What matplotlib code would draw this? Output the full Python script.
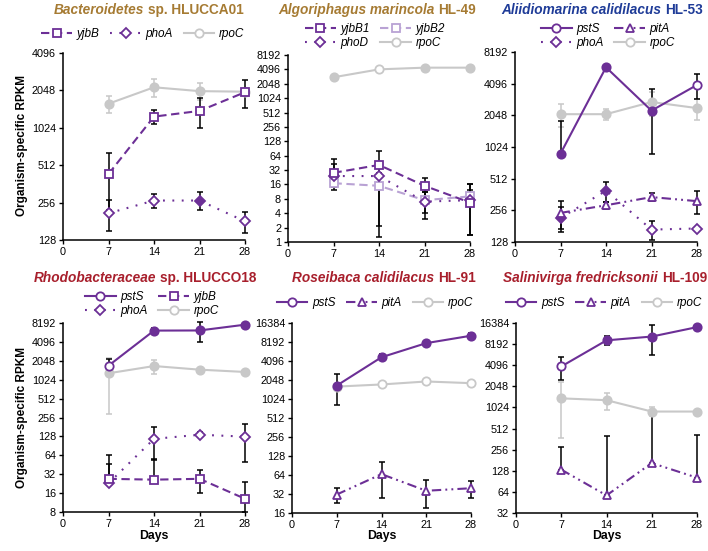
import numpy as np
import matplotlib.pyplot as plt
from matplotlib.lines import Line2D
from matplotlib.ticker import FixedLocator, FixedFormatter, NullLocator
from matplotlib.offsetbox import TextArea, HPacker, AnchoredOffsetbox

plt.rcParams['font.family'] = ['Liberation Sans', 'DejaVu Sans']

# 공통 x값 (days)
days = [7, 14, 21, 28]
x_ticks = [0, 7, 14, 21, 28]

# Panel 1 - Bacteroidetes sp. HLUCCA01
p1_yjbB = [435, 1260, 1400, 1980]
p1_yjbB_err = [210, 170, 380, 500]
p1_yjbB_fill = [0, 0, 0, 0]
p1_phoA = [210, 266, 266, 181]
p1_phoA_err = [58, 36, 44, 35]
p1_phoA_fill = [0, 0, 1, 0]
p1_rpoC = [1600, 2170, 2020, 2000]
p1_rpoC_err = [250, 370, 310, 100]
p1_rpoC_fill = [1, 1, 1, 1]

# Panel 2 - Algoriphagus marincola HL-49
p2_yjbB1 = [28, 41, 15, 6.7]
p2_yjbB1_err = [14, 41, 7, 5.3]
p2_yjbB1_fill = [0, 0, 0, 0]
p2_yjbB2 = [17, 15, 7.5, 9]
p2_yjbB2_err = [5, 12.8, 3.5, 7.6]
p2_yjbB2_fill = [0, 0, 0, 0]
p2_phoD = [24, 24, 7, 7.5]
p2_phoD_err = [30, 22.7, 4, 8.5]
p2_phoD_fill = [0, 0, 0, 0]
p2_rpoC = [2800, 4100, 4450, 4450]
p2_rpoC_err = [0, 0, 0, 0]
p2_rpoC_fill = [1, 0, 1, 1]

# Panel 3 - Aliidiomarina calidilacus HL-53
p3_pstS = [885, 5860, 2270, 3980]
p3_pstS_err = [915, 300, 1400, 1050]
p3_pstS_fill = [1, 1, 1, 0]
p3_pitA = [242, 286, 342, 313]
p3_pitA_err = [70, 20, 30, 75]
p3_pitA_fill = [0, 0, 0, 0]
p3_phoA = [217, 393, 168, 172]
p3_phoA_err = [57, 87, 33, 0]
p3_phoA_fill = [1, 1, 0, 0]
p3_rpoC = [2100, 2100, 2740, 2400]
p3_rpoC_err = [500, 250, 700, 550]
p3_rpoC_fill = [1, 1, 1, 1]

# Panel 4 - Rhodobacteraceae sp. HLUCCO18
p4_pstS = [1713, 6200, 6230, 7700]
p4_pstS_err = [480, 700, 2200, 300]
p4_pstS_fill = [0, 1, 1, 1]
p4_yjbB = [27, 26.2, 27, 13]
p4_yjbB_err = [37, 30, 11, 11]
p4_yjbB_fill = [0, 0, 0, 0]
p4_phoA = [22.9, 117, 136, 127]
p4_phoA_err = [24, 63, 12, 77]
p4_phoA_fill = [0, 0, 0, 0]
p4_rpoC = [1295, 1690, 1480, 1360]
p4_rpoC_err = [1000, 450, 80, 50]
p4_rpoC_fill = [1, 1, 1, 1]

# Panel 5 - Roseibaca calidilacus HL-91
p5_pstS = [1670, 4700, 7860, 10300]
p5_pstS_err = [850, 500, 300, 1000]
p5_pstS_fill = [1, 1, 1, 1]
p5_pitA = [31.4, 66, 36, 39.5]
p5_pitA_err = [8, 38, 17, 12]
p5_pitA_fill = [0, 0, 0, 0]
p5_rpoC = [1610, 1740, 1940, 1825]
p5_rpoC_err = [0, 0, 0, 0]
p5_rpoC_fill = [0, 0, 0, 0]

# Panel 6 - Salinivirga fredricksonii HL-109
p6_pstS = [3930, 9270, 10500, 14300]
p6_pstS_err = [1400, 1300, 4700, 0]
p6_pstS_fill = [0, 1, 1, 1]
p6_pitA = [133, 57, 165, 102]
p6_pitA_err = [150, 350, 700, 310]
p6_pitA_fill = [0, 0, 0, 0]
p6_rpoC = [1380, 1300, 895, 895]
p6_rpoC_err = [1000, 350, 130, 60]
p6_rpoC_fill = [1, 1, 1, 1]

# colors
PURPLE = '#6C2F96'
LIGHT = '#B9A2D4'
GRAY = '#C8C8C8'
BROWN = '#A67B33'
BLUE = '#1F3C98'
RED = '#A81F2C'

DASH = (0, (4, 2.2))
DOT = (0, (0.9, 3.6))
DASHDOTDOT = (0, (4.5, 2, 0.9, 2, 0.9, 2))

styles = {
    'pstS': dict(color=PURPLE, ls='-', marker='o', ms=6),
    'yjbB': dict(color=PURPLE, ls=DASH, marker='s', ms=6),
    'yjbB1': dict(color=PURPLE, ls=DASH, marker='s', ms=6),
    'yjbB2': dict(color=LIGHT, ls=DASH, marker='s', ms=6),
    'phoA': dict(color=PURPLE, ls=DOT, marker='D', ms=5),
    'phoD': dict(color=PURPLE, ls=DOT, marker='D', ms=5),
    'pitA': dict(color=PURPLE, ls=DASHDOTDOT, marker='^', ms=6),
    'rpoC': dict(color=GRAY, ls='-', marker='o', ms=6),
}


def draw_series(ax, name, y, err, filled):
    st = styles[name]
    ymin = ax.get_ylim()[0]
    y = np.array(y, float)
    err = np.array(err, float)
    lo = np.where(err < y, err, 0)  # 음수 하한은 그리지 않음
    lo = np.minimum(lo, y - ymin)   # 축 아래로 나가지 않게
    ecol = GRAY if name == 'rpoC' else 'black'
    eb = ax.errorbar(days, y, yerr=[lo, err], fmt='none', ecolor=ecol,
                     elinewidth=1.1, capsize=2.3, capthick=1.1, zorder=2)
    for child in eb.get_children():
        child.set_clip_on(False)
    ax.plot(days, y, color=st['color'], ls=st['ls'], lw=1.5, zorder=3, clip_on=False)
    for xi, yi, f in zip(days, y, filled):
        ax.plot(xi, yi, marker=st['marker'], ms=st['ms'], mec=st['color'],
                mfc=st['color'] if f else 'white', mew=1.3, zorder=4, clip_on=False)


def legend_handle(name):
    st = styles[name]
    return Line2D([], [], color=st['color'], ls=st['ls'], lw=1.5, marker=st['marker'],
                  ms=st['ms'], mec=st['color'], mfc='white', mew=1.3)


def setup_axis(ax, ymin, ymax):
    ax.set_yscale('log', base=2)
    ax.set_ylim(ymin, ymax)
    ax.set_xlim(0, 28)
    ticks = [2 ** k for k in range(int(np.log2(ymin)), int(np.log2(ymax)) + 1)]
    ax.yaxis.set_major_locator(FixedLocator(ticks))
    ax.yaxis.set_major_formatter(FixedFormatter([str(t) for t in ticks]))
    ax.yaxis.set_minor_locator(NullLocator())
    ax.set_xticks(x_ticks)
    ax.spines['top'].set_visible(False)
    ax.spines['right'].set_visible(False)
    ax.spines['left'].set_linewidth(1.1)
    ax.spines['bottom'].set_linewidth(1.1)
    ax.tick_params(axis='both', direction='out', length=3, width=1, labelsize=7.8, pad=2)


def add_title(fig, cx, cy, italic_part, rest, color):
    t1 = TextArea(italic_part, textprops=dict(color=color, fontsize=9.8, fontweight='bold', style='italic'))
    t2 = TextArea(rest, textprops=dict(color=color, fontsize=9.8, fontweight='bold'))
    box = HPacker(children=[t1, t2], align='baseline', pad=0, sep=3)
    anchored = AnchoredOffsetbox(loc='center', child=box, pad=0, frameon=False,
                                 bbox_to_anchor=(cx / 708, 1 - cy / 551),
                                 bbox_transform=fig.transFigure, borderpad=0)
    fig.add_artist(anchored)


def add_legend(ax, fig, rows, cx, cy):
    # rows: 행 단위 리스트 -> matplotlib은 열 우선으로 채우므로 순서 변환
    ncol = len(rows[0])
    names = [rows[r][c] for c in range(ncol) for r in range(len(rows))]
    handles = [legend_handle(n) for n in names]
    ax.legend(handles, names, ncol=ncol, loc='center', frameon=False,
              bbox_to_anchor=(cx / 708, 1 - cy / 551), bbox_transform=fig.transFigure,
              prop=dict(style='italic', size=8.5), handlelength=2.6, handletextpad=0.4,
              columnspacing=0.9, labelspacing=0.2, borderaxespad=0, borderpad=0)


fig = plt.figure(figsize=(7.08, 5.51), dpi=100)


def make_axes(x0, x1, ytop, ybot):
    return fig.add_axes([x0 / 708, 1 - ybot / 551, (x1 - x0) / 708, (ybot - ytop) / 551])


ax1 = make_axes(63, 245, 53, 240)
ax2 = make_axes(288, 470, 55, 242)
ax3 = make_axes(515, 697, 52, 242)
ax4 = make_axes(63, 245, 323, 512)
ax5 = make_axes(292, 471, 323, 513)
ax6 = make_axes(516, 697, 323, 513)

# Panel 1
setup_axis(ax1, 128, 4096)
draw_series(ax1, 'rpoC', p1_rpoC, p1_rpoC_err, p1_rpoC_fill)
draw_series(ax1, 'phoA', p1_phoA, p1_phoA_err, p1_phoA_fill)
draw_series(ax1, 'yjbB', p1_yjbB, p1_yjbB_err, p1_yjbB_fill)
add_legend(ax1, fig, [['yjbB', 'phoA', 'rpoC']], 143, 34)
add_title(fig, 149, 10, 'Bacteroidetes', 'sp. HLUCCA01', BROWN)

# Panel 2
setup_axis(ax2, 1, 8192)
draw_series(ax2, 'rpoC', p2_rpoC, p2_rpoC_err, p2_rpoC_fill)
draw_series(ax2, 'yjbB2', p2_yjbB2, p2_yjbB2_err, p2_yjbB2_fill)
draw_series(ax2, 'phoD', p2_phoD, p2_phoD_err, p2_phoD_fill)
draw_series(ax2, 'yjbB1', p2_yjbB1, p2_yjbB1_err, p2_yjbB1_fill)
add_legend(ax2, fig, [['yjbB1', 'yjbB2'], ['phoD', 'rpoC']], 375, 36)
add_title(fig, 377, 10, 'Algoriphagus marincola', 'HL-49', BROWN)

# Panel 3
setup_axis(ax3, 128, 8192)
draw_series(ax3, 'rpoC', p3_rpoC, p3_rpoC_err, p3_rpoC_fill)
draw_series(ax3, 'phoA', p3_phoA, p3_phoA_err, p3_phoA_fill)
draw_series(ax3, 'pitA', p3_pitA, p3_pitA_err, p3_pitA_fill)
draw_series(ax3, 'pstS', p3_pstS, p3_pstS_err, p3_pstS_fill)
add_legend(ax3, fig, [['pstS', 'pitA'], ['phoA', 'rpoC']], 608, 36)
add_title(fig, 602, 10, 'Aliidiomarina calidilacus', 'HL-53', BLUE)

# Panel 4
setup_axis(ax4, 8, 8192)
draw_series(ax4, 'rpoC', p4_rpoC, p4_rpoC_err, p4_rpoC_fill)
draw_series(ax4, 'phoA', p4_phoA, p4_phoA_err, p4_phoA_fill)
draw_series(ax4, 'yjbB', p4_yjbB, p4_yjbB_err, p4_yjbB_fill)
draw_series(ax4, 'pstS', p4_pstS, p4_pstS_err, p4_pstS_fill)
add_legend(ax4, fig, [['pstS', 'yjbB'], ['phoA', 'rpoC']], 152, 304)
add_title(fig, 145, 278, 'Rhodobacteraceae', 'sp. HLUCCO18', RED)

# Panel 5
setup_axis(ax5, 16, 16384)
draw_series(ax5, 'rpoC', p5_rpoC, p5_rpoC_err, p5_rpoC_fill)
draw_series(ax5, 'pitA', p5_pitA, p5_pitA_err, p5_pitA_fill)
draw_series(ax5, 'pstS', p5_pstS, p5_pstS_err, p5_pstS_fill)
add_legend(ax5, fig, [['pstS', 'pitA', 'rpoC']], 375, 303)
add_title(fig, 384, 278, 'Roseibaca calidilacus', 'HL-91', RED)

# Panel 6
setup_axis(ax6, 32, 16384)
draw_series(ax6, 'rpoC', p6_rpoC, p6_rpoC_err, p6_rpoC_fill)
draw_series(ax6, 'pitA', p6_pitA, p6_pitA_err, p6_pitA_fill)
draw_series(ax6, 'pstS', p6_pstS, p6_pstS_err, p6_pstS_fill)
add_legend(ax6, fig, [['pstS', 'pitA', 'rpoC']], 604, 303)
add_title(fig, 605, 278, 'Salinivirga fredricksonii', 'HL-109', RED)

# axis labels
for cy in [146, 418]:
    fig.text(22 / 708, 1 - cy / 551, 'Organism-specific RPKM', rotation=90, ha='center', va='center',
             fontsize=8.5, fontweight='bold')
for ax in [ax4, ax5, ax6]:
    pos = ax.get_position()
    fig.text(pos.x0 + pos.width / 2, 1 - 536 / 551, 'Days', ha='center', va='center',
             fontsize=8.8, fontweight='bold')

fig.savefig('out.png', dpi=100)
